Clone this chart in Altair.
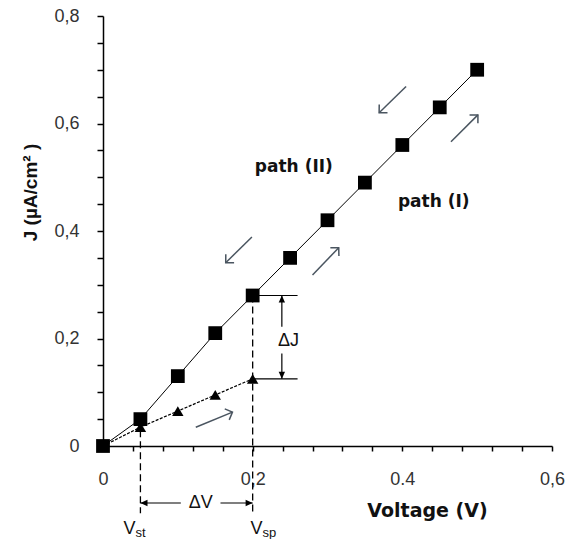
import math
import altair as alt
import pandas as pd

# ---------------- data ----------------
v_sq = [0.0, 0.05, 0.10, 0.15, 0.20, 0.25, 0.30, 0.35, 0.40, 0.45, 0.50]
j_sq = [0.0, 0.05, 0.13, 0.21, 0.28, 0.35, 0.42, 0.49, 0.56, 0.63, 0.70]
v_tri = [0.0, 0.05, 0.10, 0.15, 0.20]
j_tri = [0.0, 0.035, 0.065, 0.095, 0.125]

x_tick_values = [0.0, 0.04, 0.08, 0.12, 0.16, 0.2, 0.24, 0.28, 0.32, 0.36, 0.4,
                 0.44, 0.48, 0.52, 0.56, 0.6]
x_label_values = [0.0, 0.2, 0.4, 0.6]
x_label_texts = ["0", "0,2", "0.4", "0,6"]
y_tick_values = [0.0, 0.05, 0.1, 0.15, 0.2, 0.25, 0.3, 0.35, 0.4, 0.45, 0.5,
                 0.55, 0.6, 0.65, 0.7, 0.75, 0.8]
y_label_values = [0.0, 0.2, 0.4, 0.6, 0.8]
y_label_texts = ["0", "0,2", "0,4", "0,6", "0,8"]

# annotation: dashed drop lines (V, top J, bottom J)
drop_v = [0.05, 0.20]
drop_top = [0.05, 0.28]
drop_bottom = [-0.125, -0.125]

# horizontal reference lines at V_sp (J, V start, V end)
h_j = [0.28, 0.125]
h_v0 = [0.20, 0.20]
h_v1 = [0.26, 0.26]

# black double arrows (shaft segments with heads at the end point)
blk_v0 = [0.239, 0.239, 0.104, 0.157]
blk_j0 = [0.222, 0.172, -0.106, -0.106]
blk_v1 = [0.239, 0.239, 0.05, 0.20]
blk_j1 = [0.28, 0.125, -0.106, -0.106]

# grey direction arrows
g_v0 = [0.405, 0.465, 0.199, 0.280, 0.124]
g_j0 = [0.669, 0.566, 0.389, 0.318, 0.035]
g_v1 = [0.369, 0.501, 0.164, 0.315, 0.173]
g_j1 = [0.620, 0.616, 0.341, 0.369, 0.063]

# text labels
lab_text = ["path (II)", "path (I)"]
lab_v = [0.255, 0.442]
lab_j = [0.52, 0.454]

sym_text = ["ΔJ", "ΔV"]
sym_v = [0.248, 0.1305]
sym_j = [0.196, -0.106]

vsub_main_v = [0.0275, 0.197]
vsub_sub = ["st", "sp"]
vsub_j = [-0.137, -0.137]

# ---------------- chart ----------------
W, H = 449, 430
XMAX, YMAX = 0.6, 0.8
sx, sy = W / XMAX, H / YMAX


def angle_of(v0, j0, v1, j1):
    dx = (v1 - v0) * sx
    dy = -(j1 - j0) * sy
    return math.degrees(math.atan2(dy, dx)) % 360


def lbl_expr(vals, texts):
    expr = "''"
    for v, t in reversed(list(zip(vals, texts))):
        expr = f"abs(datum.value - {v}) < 0.001 ? '{t}' : ({expr})"
    return expr


xs = alt.Scale(domain=[0, XMAX], nice=False, zero=True)
ys = alt.Scale(domain=[0, YMAX], nice=False, zero=True)

xaxis = alt.Axis(
    title="Voltage (V)", values=x_tick_values, labelExpr=lbl_expr(x_label_values, x_label_texts),
    grid=False, ticks=True, tickColor="black", tickSize=5, tickWidth=1.5, labelPadding=19,
    titleX=324, titleY=64, titleBaseline="middle", titleAlign="center",
)
yaxis = alt.Axis(
    title="J (µA/cm² )", values=y_tick_values, labelExpr=lbl_expr(y_label_values, y_label_texts),
    grid=False, ticks=True, tickColor="black", tickSize=6, tickWidth=1.5, labelPadding=18,
    titleFont="Liberation Sans",
    titleX=-73, titleY=176, titleBaseline="middle", titleAlign="center", titleAngle=270,
)


def X(f):
    return alt.X(f, type="quantitative", scale=xs, axis=xaxis)


def Y(f):
    return alt.Y(f, type="quantitative", scale=ys, axis=yaxis)


sq = pd.DataFrame({"V": v_sq, "J": j_sq})
tri = pd.DataFrame({"V": v_tri, "J": j_tri})

sq_line = alt.Chart(sq).mark_line(color="black", strokeWidth=1).encode(x=X("V"), y=Y("J"))
tri_line = alt.Chart(tri).mark_line(color="black", strokeWidth=1.2, strokeDash=[3, 1.5]).encode(
    x=X("V"), y=Y("J"))
sq_pts = alt.Chart(sq).mark_point(shape="square", filled=True, size=190, color="black",
                                  opacity=1).encode(x=X("V"), y=Y("J"))
tri_pts = alt.Chart(tri[tri.V > 0]).mark_point(shape="triangle-up", filled=True, size=130,
                                                color="black", opacity=1).encode(x=X("V"), y=Y("J"))

drops = pd.DataFrame({"V": drop_v, "J": drop_top, "J2": drop_bottom})
drop_layer = alt.Chart(drops).mark_rule(color="black", strokeWidth=1.3, strokeDash=[7, 4]).encode(
    x=X("V"), y=Y("J"), y2="J2")

hl = pd.DataFrame({"V": h_v0, "V2": h_v1, "J": h_j})
h_layer = alt.Chart(hl).mark_rule(color="black", strokeWidth=1.2).encode(
    x=X("V"), x2="V2", y=Y("J"))

blk = pd.DataFrame({"V": blk_v0, "J": blk_j0, "V2": blk_v1, "J2": blk_j1})
blk["ang"] = [angle_of(a, b, c, d) for a, b, c, d in zip(blk_v0, blk_j0, blk_v1, blk_j1)]
blk_shaft = alt.Chart(blk).mark_rule(color="black", strokeWidth=1.2).encode(
    x=X("V"), y=Y("J"), x2="V2", y2="J2")
blk_head = alt.Chart(blk).mark_point(shape="M0,0L-1,-0.45L-1,0.45Z", filled=True, size=200,
                                     color="black", opacity=1).encode(
    x=X("V2"), y=Y("J2"), angle=alt.Angle("ang:Q", scale=None))

gr = pd.DataFrame({"V": g_v0, "J": g_j0, "V2": g_v1, "J2": g_j1})
gr["ang"] = [angle_of(a, b, c, d) for a, b, c, d in zip(g_v0, g_j0, g_v1, g_j1)]
gcol = "#4a5560"
g_shaft = alt.Chart(gr).mark_rule(color=gcol, strokeWidth=1.5).encode(
    x=X("V"), y=Y("J"), x2="V2", y2="J2")
g_head = alt.Chart(gr).mark_point(shape="M-1,-1L0,0L-1,1", filled=False, size=140, color=gcol,
                                  strokeWidth=1.5, opacity=1).encode(
    x=X("V2"), y=Y("J2"), angle=alt.Angle("ang:Q", scale=None))

labs = pd.DataFrame({"V": lab_v, "J": lab_j, "t": lab_text})
lab_layer = alt.Chart(labs).mark_text(font="DejaVu Sans", fontWeight="bold", fontSize=17,
                                      color="#111").encode(x=X("V"), y=Y("J"), text="t:N")

syms = pd.DataFrame({"V": sym_v, "J": sym_j, "t": sym_text})
sym_layer = alt.Chart(syms).mark_text(font="Liberation Sans", fontSize=18, color="#111").encode(
    x=X("V"), y=Y("J"), text="t:N")

vs = pd.DataFrame({"V": vsub_main_v, "J": vsub_j, "s": vsub_sub})
v_main = alt.Chart(vs).mark_text(font="Liberation Sans", fontSize=18, color="#111", align="left",
                                 baseline="top", text="V").encode(x=X("V"), y=Y("J"))
v_sub = alt.Chart(vs).mark_text(font="Liberation Sans", fontSize=13, color="#111", align="left",
                                baseline="top", dx=12, dy=7).encode(x=X("V"), y=Y("J"), text="s:N")

chart = alt.layer(
    drop_layer, h_layer, blk_shaft, blk_head, g_shaft, g_head,
    tri_line, sq_line, tri_pts, sq_pts, lab_layer, sym_layer, v_main, v_sub,
).properties(
    width=W, height=H,
    autosize=alt.AutoSizeParams(type="none"),
    padding={"left": 103, "top": 16, "right": 15, "bottom": 93},
    background="white",
).configure_view(stroke=None).configure_axis(
    domainColor="black", domainWidth=1.5,
    labelFont="Liberation Sans", labelFontSize=18, labelColor="#333",
    labelFlush=False, labelOverlap=False,
    titleFont="DejaVu Sans", titleFontWeight="bold", titleFontSize=19, titleColor="#111",
)

chart.save("out.html", embed_options={"renderer": "svg", "actions": False})
